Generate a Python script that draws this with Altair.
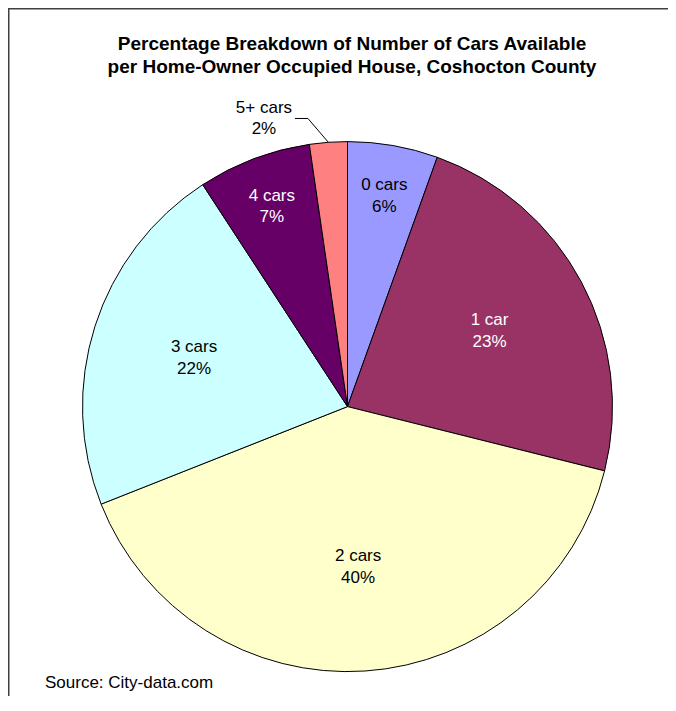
import altair as alt
import pandas as pd

# ---- data ----
categories = ["0 cars", "1 car", "2 cars", "3 cars", "4 cars", "5+ cars"]
shares = [5.5, 23.4, 40.1, 21.8, 6.9, 2.3]          # slice sizes (percent)
pct_labels = ["6%", "23%", "40%", "22%", "7%", "2%"]  # printed labels
title_lines = [
    "Percentage Breakdown of Number of Cars Available",
    "per Home-Owner Occupied House, Coshocton County",
]
source_text = "Source: City-data.com"

fills = ["#9999FF", "#993366", "#FFFFCC", "#CCFFFF", "#660066", "#FF8080"]

df = pd.DataFrame({
    "category": categories,
    "value": shares,
    "pct": pct_labels,
    "idx": list(range(len(categories))),
})

W, H = 660, 688
CX, CY, R = 339.5, 398.6, 265
FONT = "Liberation Sans"
LH = 21.5          # label line height
HALF = LH / 2      # shift so that a two-line block is centred on its anchor

pie = alt.Chart(df).mark_arc(radius=R, stroke="black", strokeWidth=1).encode(
    theta=alt.Theta("value:Q", stack=True),
    color=alt.Color("category:N", scale=alt.Scale(domain=categories, range=fills), legend=None),
    order=alt.Order("idx:Q"),
    x=alt.value(CX),
    y=alt.value(CY),
)


def positioned():
    return (
        alt.Chart(df)
        .transform_joinaggregate(total="sum(value)")
        .transform_window(cum="sum(value)", sort=[alt.SortField("idx", order="ascending")], frame=[None, 0])
        .transform_calculate(
            mid="(datum.cum - datum.value / 2) / datum.total * 2 * PI",
            text="datum.category + '\\n' + datum.pct",
        )
    )


inner = (
    positioned()
    .transform_filter("datum.value >= 3")
    .transform_calculate(lr="datum.value < 10 ? 214 : 161")
    .transform_calculate(
        lx=f"{CX} + datum.lr * sin(datum.mid)",
        ly=f"{CY} - datum.lr * cos(datum.mid) - {HALF}",
    )
    .mark_text(font=FONT, fontSize=17, lineBreak="\n", lineHeight=LH, align="center", baseline="middle")
    .encode(
        x=alt.X("lx:Q", scale=None),
        y=alt.Y("ly:Q", scale=None),
        text="text:N",
        color=alt.condition("datum.idx == 1 || datum.idx == 4", alt.value("white"), alt.value("black")),
    )
)

outer_base = (
    positioned()
    .transform_filter("datum.value < 3")
    .transform_calculate(
        ox=f"{CX} + 300 * sin(datum.mid - 0.21)",
        oy=f"{CY} - 300 * cos(datum.mid - 0.21)",
        ex=f"{CX} + {R} * sin(datum.mid)",
        ey=f"{CY} - {R} * cos(datum.mid)",
    )
    .transform_calculate(k1="datum.ox + 31", k2="datum.ox + 44", ty=f"datum.oy - {HALF}")
)

outer_label = outer_base.mark_text(
    font=FONT, fontSize=17, lineBreak="\n", lineHeight=LH, align="center", baseline="middle", color="black"
).encode(x=alt.X("ox:Q", scale=None), y=alt.Y("ty:Q", scale=None), text="text:N")

leader1 = outer_base.mark_rule(color="black", strokeWidth=1).encode(
    x=alt.X("k1:Q", scale=None), x2="k2:Q",
    y=alt.Y("oy:Q", scale=None), y2="oy:Q",
)
leader2 = outer_base.mark_rule(color="black", strokeWidth=1).encode(
    x=alt.X("k2:Q", scale=None), x2="ex:Q",
    y=alt.Y("oy:Q", scale=None), y2="ey:Q",
)

title = alt.Chart(pd.DataFrame({"t": ["\n".join(title_lines)]})).mark_text(
    font=FONT, fontSize=19, fontWeight="bold", lineBreak="\n", lineHeight=22.7,
    align="center", baseline="alphabetic", color="black",
).encode(text="t:N", x=alt.value(344), y=alt.value(42))

source = alt.Chart(pd.DataFrame({"t": [source_text]})).mark_text(
    font=FONT, fontSize=17, align="left", baseline="alphabetic", color="black",
).encode(text="t:N", x=alt.value(37), y=alt.value(680))

one = pd.DataFrame({"a": [0]})
frame_top = alt.Chart(one).mark_rule(color="#404040", strokeWidth=1.5).encode(
    x=alt.value(0), x2=alt.value(W), y=alt.value(0.75)
)
frame_left = alt.Chart(one).mark_rule(color="#404040", strokeWidth=1.5).encode(
    x=alt.value(0.75), y=alt.value(0), y2=alt.value(H)
)

chart = (
    alt.layer(frame_top, frame_left, pie, inner, leader1, leader2, outer_label, title, source)
    .properties(width=W, height=H, padding=0, autosize=alt.AutoSizeParams(type="none"), background="white")
    .configure_view(strokeWidth=0)
)

chart.save("out.html", embed_options={"renderer": "svg", "actions": False})
